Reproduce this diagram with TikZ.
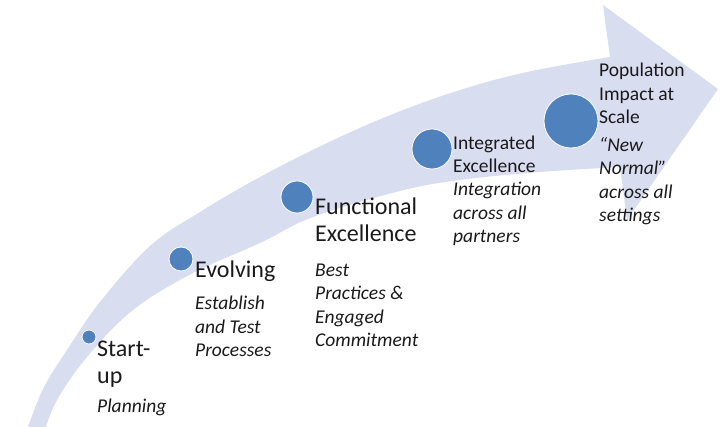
\documentclass[tikz,border=0pt]{standalone}
\usepackage{fontspec}
\setmainfont{Carlito}
\definecolor{bandfill}{RGB}{217,221,240}
\definecolor{dotfill}{RGB}{79,129,189}
\definecolor{ink}{RGB}{26,26,26}
\begin{document}
\begin{tikzpicture}[x=1pt,y=-1pt,
  band/.style={fill=bandfill},
  dot/.style={circle, fill=dotfill, draw=white, line width=0.8pt, inner sep=0pt},
  stage/.style={anchor=base west, inner sep=0pt, align=left, text=ink,
    font=\fontsize{24}{27}\selectfont},
  stagesmall/.style={anchor=base west, inner sep=0pt, align=left, text=ink,
    font=\fontsize{19.5}{23.5}\selectfont},
  note/.style={anchor=base west, inner sep=0pt, align=left, text=ink,
    font=\fontsize{19.5}{23.5}\selectfont\itshape}]
\useasboundingbox (0,0) rectangle (723,427);

% curved progression arrow
\fill[band]
  plot[smooth, tension=0.6] coordinates {(27,430) (43,389) (67,350) (100,302)
    (150,246) (200,212) (260,177) (327,143) (393,114) (460,90) (527,72) (610,57)}
  -- (603,5) -- (718,89) -- (627,220) -- (620,167)
  -- plot[smooth, tension=0.6] coordinates {(620,167) (540,172) (460,180)
    (400,191) (313,217) (260,243) (193,273) (133,310) (87,357) (57,400) (45,430)}
  -- cycle;

% stage markers, growing along the arrow
\node[dot, minimum size=14pt] (d1) at (89,337) {};
\node[dot, minimum size=24pt] (d2) at (181,259) {};
\node[dot, minimum size=32pt] (d3) at (297,197) {};
\node[dot, minimum size=40pt] (d4) at (432,149) {};
\node[dot, minimum size=54pt] (d5) at (571,121) {};

% stage titles and descriptions (each node sits on the baseline of its last line)
\node[stage] (t1) at (97,384) {Start-\\up};
\node[note]  (s1) at (97,413) {Planning};

\node[stage] (t2) at (195,278) {Evolving};
\node[note]  (s2) at (195,357) {Establish\\and Test\\Processes};

\node[stage] (t3) at (315,242) {Functional\\Excellence};
\node[note]  (s3) at (315,347) {Best\\Practices \&\\Engaged\\Commitment};

\node[stagesmall] (t4) at (453,173) {Integrated\\Excellence};
\node[note]       (s4) at (453,243) {Integration\\across all\\partners};

\node[stagesmall] (t5) at (599,124) {Population\\Impact at\\Scale};
\node[note]       (s5) at (599,222) {“New\\Normal”\\across all\\settings};
\end{tikzpicture}
\end{document}
